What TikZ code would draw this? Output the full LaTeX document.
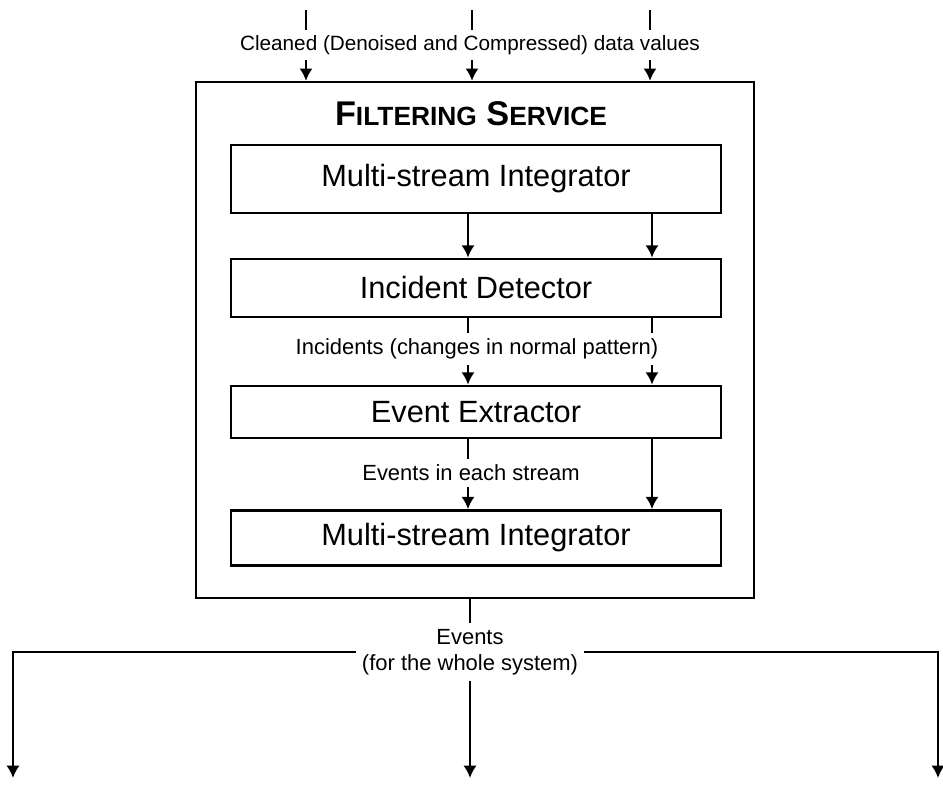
\documentclass[tikz,border=0pt]{standalone}
\usepackage{fontspec}
\setmainfont{Liberation Sans}
\usepackage{tikz}
\usetikzlibrary{arrows.meta,positioning,calc}
\definecolor{ink}{HTML}{000000}

\tikzset{
  stage/.style={draw=ink,line width=1.6pt,minimum width=9.8cm,minimum height=#1,
                font=\fontsize{17.5}{21}\selectfont,inner sep=0pt},
  flowlbl/.style={fill=white,font=\fontsize{12.5}{15}\selectfont,inner sep=3pt,align=center},
  flow/.style={draw=ink,line width=1.2pt,-{Latex[length=7pt,width=7.5pt]}},
  plain/.style={draw=ink,line width=1.2pt},
}

\begin{document}
\begin{tikzpicture}[x=0.02cm,y=-0.02cm]
  \useasboundingbox (0,0) rectangle (943,788);
  % filtering service frame
  \node[draw=ink,line width=1.4pt,minimum width=11.16cm,minimum height=10.32cm] (svc) at (475,340) {};
  \node[font=\bfseries\fontsize{19.5}{22}\selectfont] (title) at (471,114)
    {F{\fontsize{15}{17}\selectfont ILTERING} S{\fontsize{15}{17}\selectfont ERVICE}};
  % stages
  \node[stage=1.36cm] (msiA)    at (476,179) {Multi-stream Integrator};
  \node[stage=1.16cm] (detect)  at (476,288) {Incident Detector};
  \node[stage=1.04cm] (extract) at (476,412) {Event Extractor};
  \node[stage=1.10cm] (msiB)    at (476,538) {Multi-stream Integrator};
  % flow labels
  \node[flowlbl,font=\fontsize{11.8}{14}\selectfont] (cleaned) at (470,45) {Cleaned (Denoised and Compressed) data values};
  \node[flowlbl] (incid)    at (477,349) {Incidents (changes in normal pattern)};
  \node[flowlbl] (evstream) at (471,473) {Events in each stream};
  \node[flowlbl] (evall)    at (470,652) {Events\\(for the whole system)};
  % columns and free ends
  \coordinate (colL) at (468,0);
  \coordinate (colR) at (652,0);
  \coordinate (in1) at (306,10);
  \coordinate (in2) at (472,10);
  \coordinate (in3) at (650,10);
  \coordinate (outL) at (13,778);
  \coordinate (outC) at (470,778);
  \coordinate (outR) at (938,778);

  \foreach \c in {in1,in2,in3}{
    \draw[plain] (\c) -- (\c |- cleaned.north);
    \draw[flow] (\c |- cleaned.south) -- (\c |- svc.north);
  }
  \draw[flow] (msiA.south -| colL) -- (detect.north -| colL);
  \draw[flow] (msiA.south -| colR) -- (detect.north -| colR);
  \foreach \c in {colL,colR}{
    \draw[plain] (detect.south -| \c) -- (incid.north -| \c);
    \draw[flow] (incid.south -| \c) -- (extract.north -| \c);
  }
  \draw[plain] (extract.south -| colL) -- (evstream.north -| colL);
  \draw[flow] (evstream.south -| colL) -- (msiB.north -| colL);
  \draw[flow] (extract.south -| colR) -- (msiB.north -| colR);
  % distribution of events
  \draw[plain] (svc.south -| evall) -- (evall.north);
  \draw[flow] (evall.south) -- (outC);
  \draw[flow] (evall.west) -| (outL);
  \draw[flow] (evall.east) -| (outR);
\end{tikzpicture}
\end{document}
